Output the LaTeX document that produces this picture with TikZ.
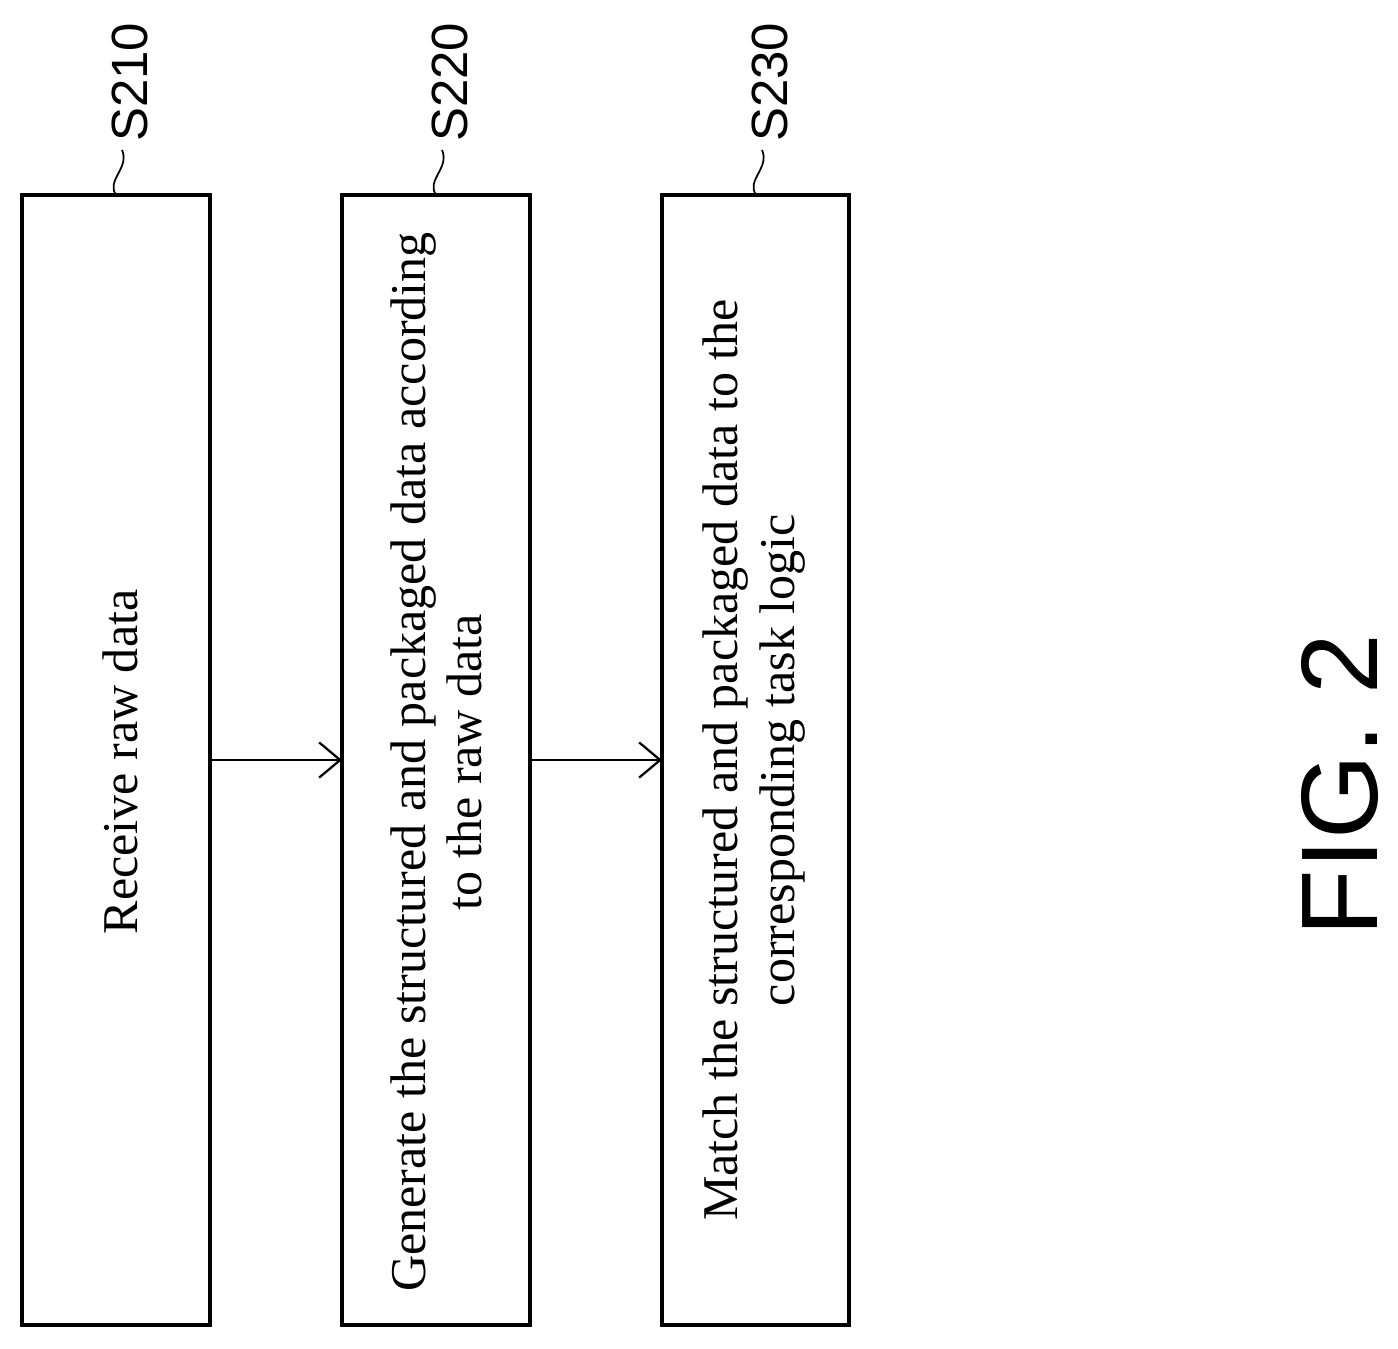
\documentclass[tikz,border=0pt]{standalone}
\usepackage{fontspec}
\usetikzlibrary{arrows.meta}
\setmainfont{Liberation Serif}
\newfontfamily\lab{Liberation Sans}
\begin{document}
\begin{tikzpicture}[x=0.02cm,y=-0.02cm]
\tikzset{stepbox/.style={draw,line width=1.8pt},
 txt/.style={rotate=90,font=\fontsize{28.5}{32}\selectfont,align=center,inner sep=0},
 lbl/.style={rotate=90,font=\lab\fontsize{29}{32}\selectfont,inner sep=0,anchor=west},
 conn/.style={line width=1.3pt,-{Straight Barb[length=12pt,width=20pt]}}}
\useasboundingbox (0,0) rectangle (1398,1348);
\fill[white] (0,0) rectangle (1398,1348);
\draw[stepbox] (22,195) rectangle (210,1325);
\draw[stepbox] (342,195) rectangle (530,1325);
\draw[stepbox] (662,195) rectangle (849,1325);
\coordinate (r1) at (210,760); \coordinate (l2) at (342,760);
\coordinate (r2) at (530,760); \coordinate (l3) at (662,760);
\draw[conn] (r1) -- (l2);
\draw[conn] (r2) -- (l3);
\node[txt] (t1) at (120,762) {Receive raw data};
\node[txt] (t2) at (436,762) {Generate the structured and packaged data according\\to the raw data};
\node[txt] (t3) at (754,760) {Match the structured and packaged data to the\\corresponding task logic};
\foreach \x/\n in {116/S210,436/S220,756/S230}{
 \node[lbl] (L\n) at (\x+14,142) {\n};
 \draw[line width=1pt] (\x,195) .. controls (\x-10,180) and (\x+14,168) .. (\x+6,150);
}
\node[rotate=90,font=\lab\fontsize{62}{64}\selectfont,inner sep=0] (fig) at (1340,785) {FIG. 2};
\end{tikzpicture}
\end{document}
